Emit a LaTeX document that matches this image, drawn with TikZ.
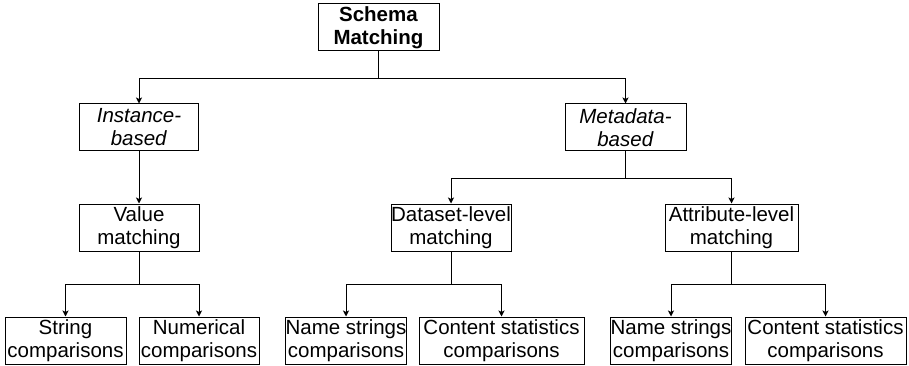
\documentclass[tikz,border=0pt]{standalone}
\usepackage{fontspec}
\setmainfont{Liberation Sans}
\usetikzlibrary{arrows.meta}

\tikzset{
  box/.style={draw, line width=1pt, inner sep=0pt, align=center,
    minimum height=47pt, font=\fontsize{20.5}{23}\selectfont},
  arr/.style={line width=1pt, -{Stealth[length=6pt,width=6pt,inset=1.5pt]}},
}

\begin{document}
\begin{tikzpicture}[x=1pt, y=-1pt]
  \useasboundingbox (0,0) rectangle (909,366);

  % top level
  \node[box, minimum width=121pt] (root) at (378.5,27.5) {\textbf{Schema}\\\textbf{Matching}};

  % second level
  \node[box, minimum width=119pt] (inst) at (139,127.5) {\textit{Instance-}\\\textit{based}};
  \node[box, minimum width=121pt] (meta) at (625.5,127.5) {\textit{Metadata-}\\\textit{based}};

  % third level
  \node[box, minimum width=120pt] (value) at (139,227.5) {Value\\matching};
  \node[box, minimum width=120pt] (dset) at (451,227.5) {Dataset-level\\matching};
  \node[box, minimum width=133pt] (attr) at (731.5,227.5) {Attribute-level\\matching};

  % leaves
  \node[box, minimum width=121pt] (str) at (65.5,340.5) {String\\comparisons};
  \node[box, minimum width=120pt] (num) at (199,340.5) {Numerical\\comparisons};
  \node[box, minimum width=120pt] (nameA) at (346,340.5) {Name strings\\comparisons};
  \node[box, minimum width=165pt] (contA) at (501.5,340.5) {Content statistics\\comparisons};
  \node[box, minimum width=118pt] (nameB) at (671,340.5) {Name strings\\comparisons};
  \node[box, minimum width=161pt] (contB) at (825.5,340.5) {Content statistics\\comparisons};

  % connectors
  \draw[arr] (root.south) -- ++(0,27) -| (inst.north);
  \draw[arr] (root.south) -- ++(0,27) -| (meta.north);

  \draw[arr] (inst.south) -- (value.north);
  \draw[arr] (meta.south) -- ++(0,27) -| (dset.north);
  \draw[arr] (meta.south) -- ++(0,27) -| (attr.north);

  \draw[arr] (value.south) -- ++(0,33) -| (str.north);
  \draw[arr] (value.south) -- ++(0,33) -| (num.north);
  \draw[arr] (dset.south) -- ++(0,33) -| (nameA.north);
  \draw[arr] (dset.south) -- ++(0,33) -| (contA.north);
  \draw[arr] (attr.south) -- ++(0,33) -| (nameB.north);
  \draw[arr] (attr.south) -- ++(0,33) -| (contB.north);
\end{tikzpicture}
\end{document}
